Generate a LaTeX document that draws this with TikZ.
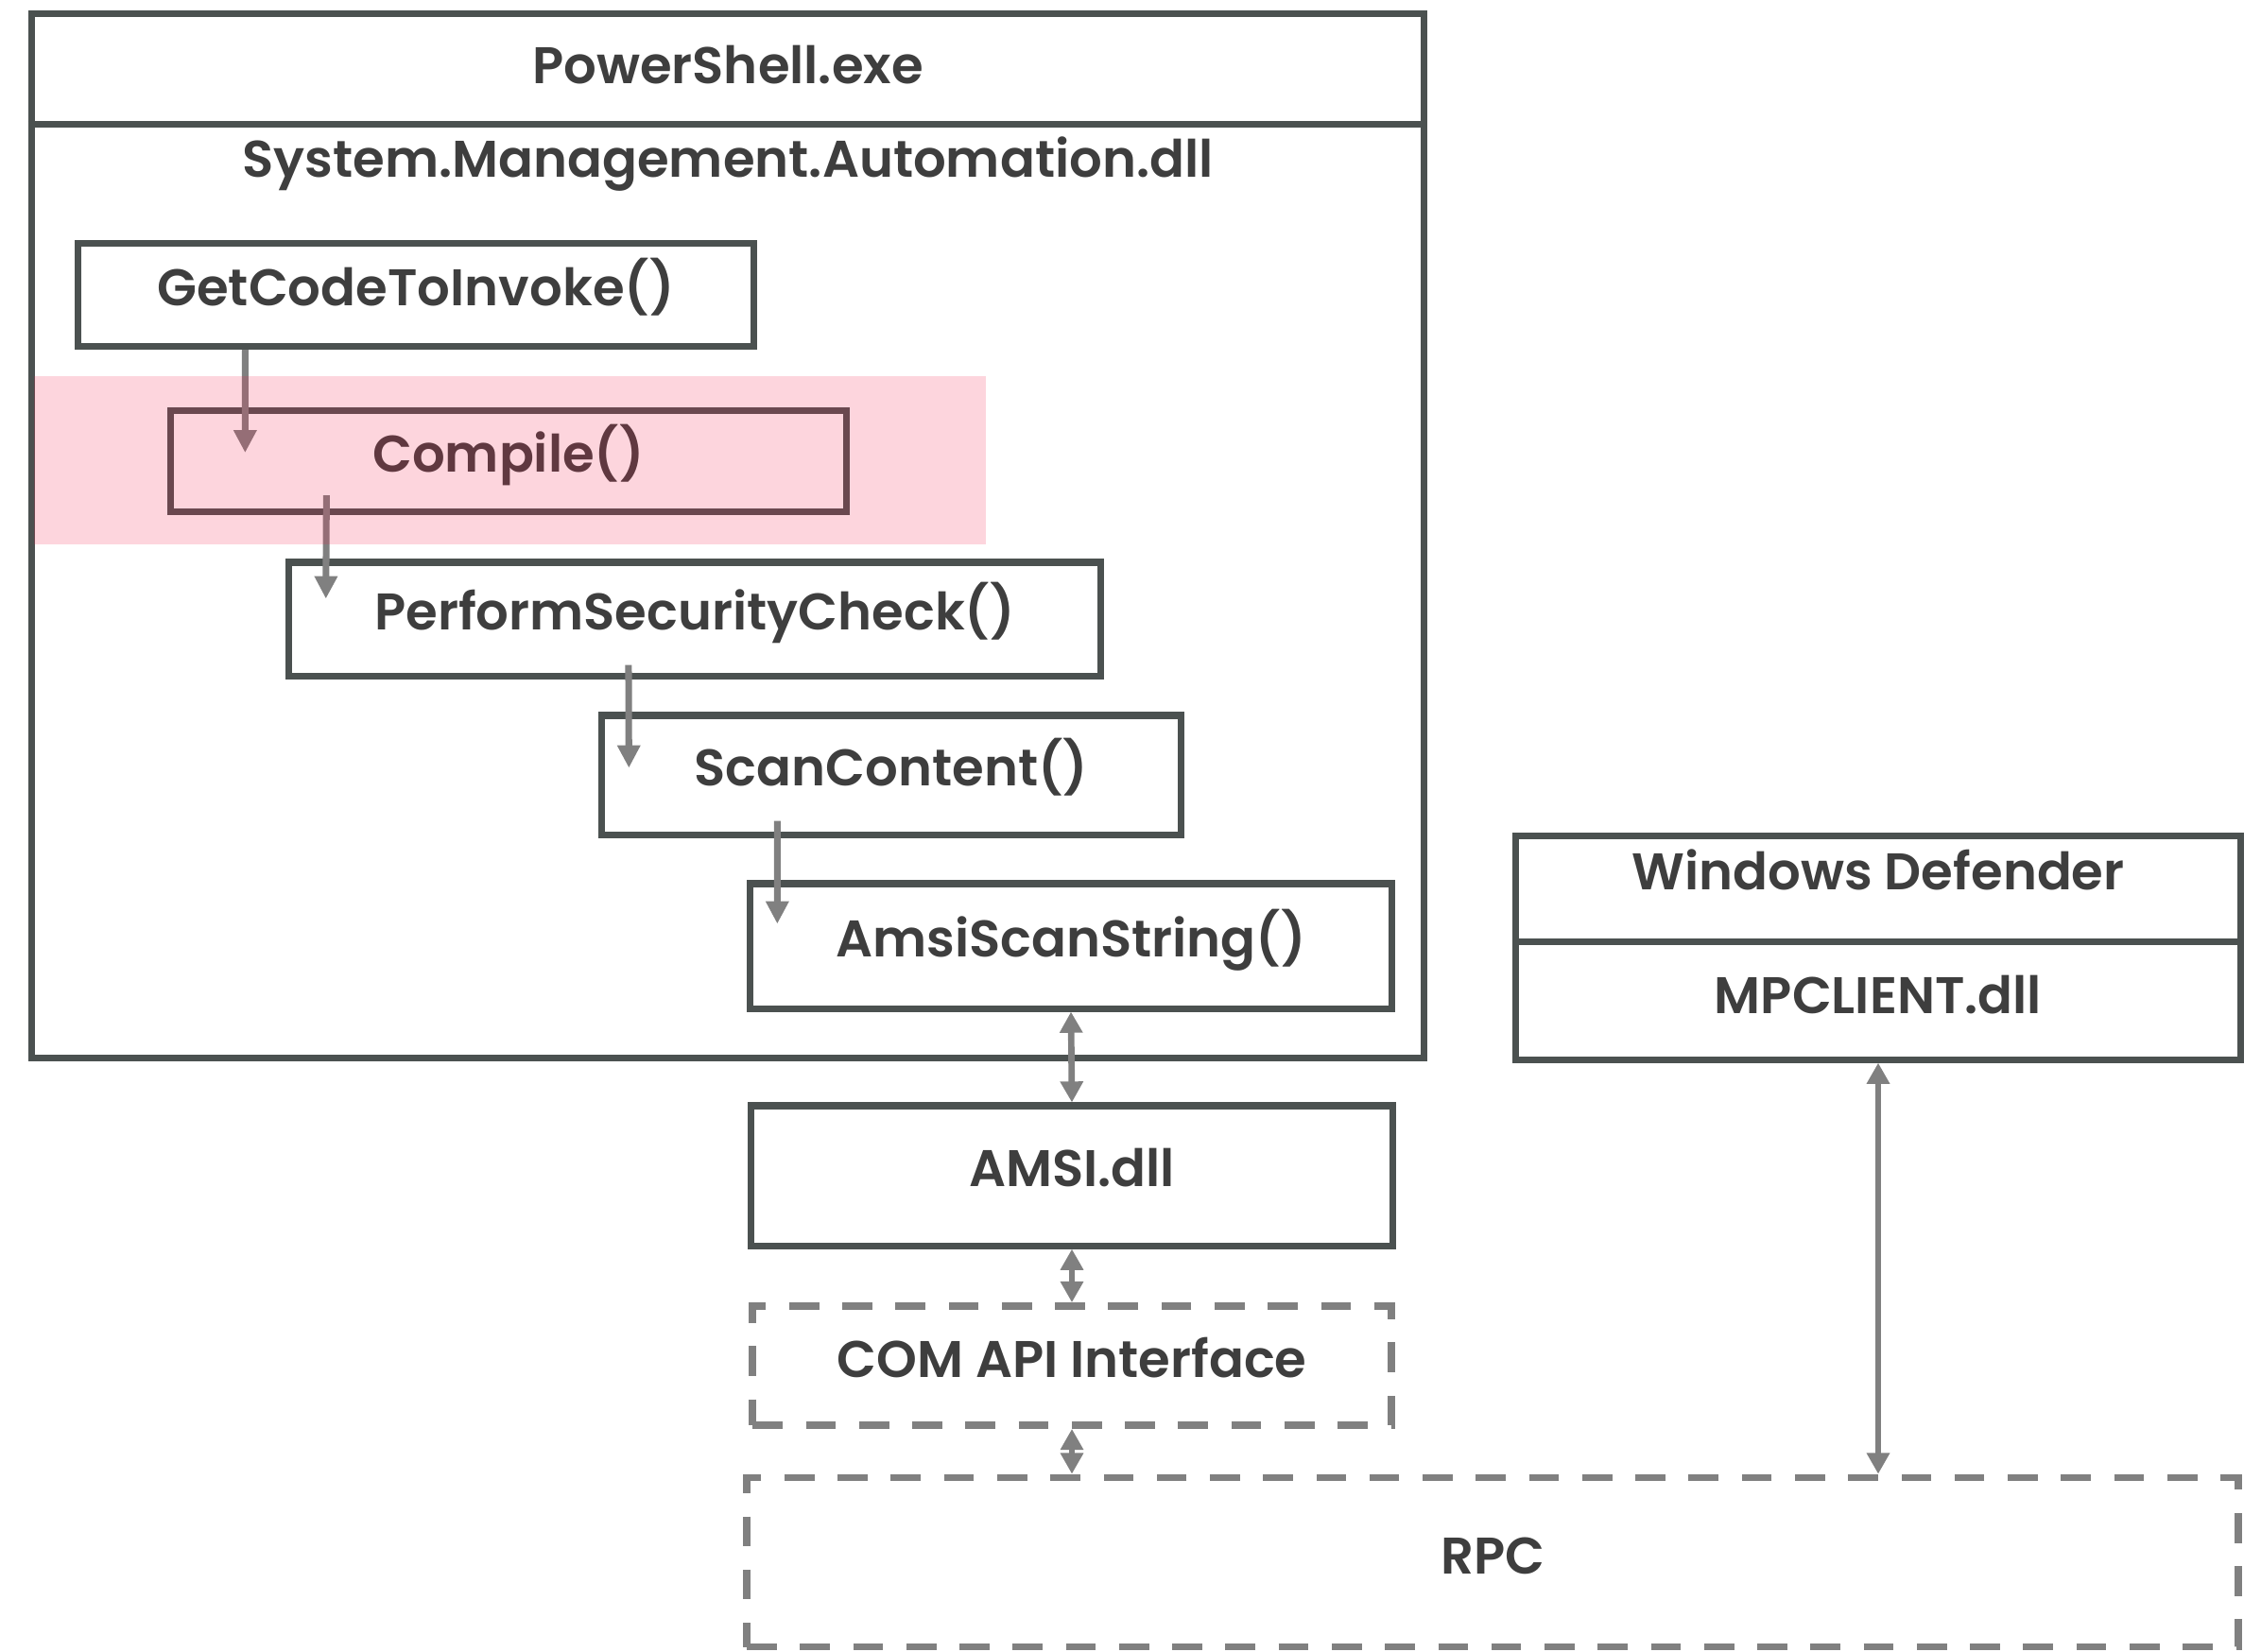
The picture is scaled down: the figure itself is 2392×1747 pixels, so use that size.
\documentclass[tikz,border=0pt]{standalone}
\usepackage{fontspec}
\setmainfont{Poppins SemiBold}
\usepackage{tikz}
\usetikzlibrary{arrows.meta}

\definecolor{boxgray}{RGB}{75,81,80}
\definecolor{txtgray}{RGB}{62,62,62}
\definecolor{arrgray}{RGB}{128,128,128}
\definecolor{hlpink}{RGB}{244,34,76}

\tikzset{
  fn/.style={draw=boxgray, line width=2pt, inner sep=0pt, text=txtgray,
    text height=0.72em, text depth=0.04em, font=\fontsize{15.5}{18}\selectfont},
  lbl/.style={inner sep=0pt, text=txtgray, font=\fontsize{15.5}{18}\selectfont},
  dashbox/.style={draw=arrgray, line width=2.2pt, dash pattern=on 9pt off 7pt,
    inner sep=0pt, text=txtgray, text height=0.72em, text depth=0.04em,
    font=\fontsize{15.5}{18}\selectfont},
  flow/.style={draw=arrgray, line width=2pt, -{Triangle[length=6.8pt,width=6.6pt]}},
  both/.style={draw=arrgray, line width=1.9pt,
    {Triangle[length=6.3pt,width=6.6pt]}-{Triangle[length=6.3pt,width=6.6pt]}}
}

\begin{document}
\begin{tikzpicture}[x=0.01cm,y=-0.01cm]
\useasboundingbox (0,0) rectangle (2392,1747);
\begin{scope}[shift={(0,0)}]
\node[fn, minimum width=14.73cm, minimum height=11.04cm] (ps) at (770,567) {};
\draw[boxgray, line width=2pt] ([yshift=-1.2cm]ps.north west) -- ([yshift=-1.2cm]ps.north east);
\node[lbl] (psname) at (770,69) {PowerShell.exe};
\node[lbl] (smadll) at (770,174) {System.Management.Automation.dll};
\node[fn, minimum width=7.14cm, minimum height=1.09cm] (get) at (440,312) {GetCodeToInvoke()};
\node[fn, minimum width=7.14cm, minimum height=1.07cm] (comp) at (538,488) {Compile()};
\node[fn, minimum width=8.59cm, minimum height=1.20cm] (check) at (735,655) {PerformSecurityCheck()};
\node[fn, minimum width=6.12cm, minimum height=1.26cm] (scan) at (943,820) {ScanContent()};
\node[fn, minimum width=6.78cm, minimum height=1.32cm] (amsiscan) at (1133,1001) {AmsiScanString()};
\draw[flow] ([xshift=1.8cm]get.south west) -- ([xshift=0.82cm,yshift=-0.48cm]comp.north west);
\draw[flow] ([xshift=1.68cm,yshift=0.21cm]comp.south west) -- ([xshift=0.43cm,yshift=-0.42cm]check.north west);
\draw[flow] ([xshift=3.63cm,yshift=0.15cm]check.south west) -- ([xshift=0.32cm,yshift=-0.59cm]scan.north west);
\draw[flow] ([xshift=1.89cm,yshift=0.18cm]scan.south west) -- ([xshift=0.32cm,yshift=-0.46cm]amsiscan.north west);
\fill[hlpink, fill opacity=0.19] (36,398) rectangle (1043,576);
\end{scope}

\node[fn, minimum width=6.78cm, minimum height=1.48cm] (amsi) at (1134,1244) {AMSI.dll};
\node[dashbox, minimum width=6.75cm, minimum height=1.26cm] (com) at (1134,1445) {COM API Interface};
\node[dashbox, minimum width=15.77cm, minimum height=1.79cm] (rpc) at (1579,1653) {RPC};
\draw[both] (amsiscan.south) -- (amsi.north);
\draw[both] (amsi.south) -- (com.north);
\draw[both] (com.south) -- (com.south |- rpc.north);

\node[fn, minimum width=7.66cm, minimum height=2.36cm] (wd) at (1987,1003) {};
\draw[boxgray, line width=2pt] ([yshift=-1.15cm]wd.north west) -- ([yshift=-1.15cm]wd.north east);
\node[lbl] (wdname) at (1987,920) {Windows Defender};
\node[lbl] (mpclient) at (1987,1053) {MPCLIENT.dll};
\draw[both] (wd.south) -- (wd.south |- rpc.north);
\end{tikzpicture}
\end{document}
